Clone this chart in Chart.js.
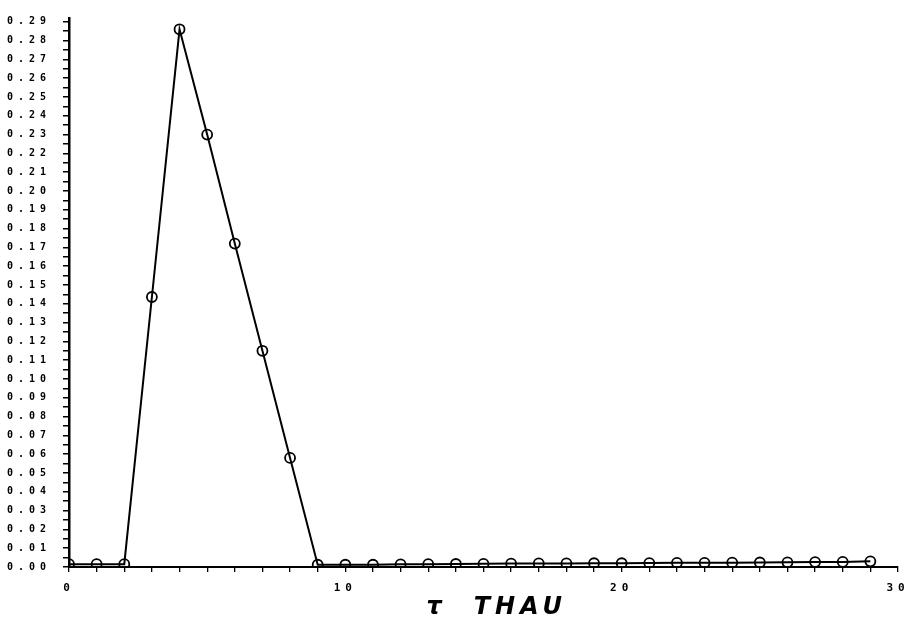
<!DOCTYPE html>
<html>
<head>
<meta charset="utf-8">
<script src="https://cdn.jsdelivr.net/npm/chart.js@4.4.0/dist/chart.umd.min.js"></script>
<style>
html,body{margin:0;padding:0;background:#fff;}
#wrap{width:910px;height:625px;position:relative;}
</style>
</head>
<body>
<div id="wrap"><canvas id="c" width="910" height="625"></canvas></div>
<script>
const tauValues = [0,1,2,3,4,5,6,7,8,9,10,11,12,13,14,15,16,17,18,19,20,21,22,23,24,25,26,27,28,29];
const seriesValues = [0.0015,0.0015,0.0015,0.1436,0.286,0.230,0.172,0.115,0.058,0.0012,
  0.0012,0.0012,0.0014,0.0015,0.0016,0.0017,0.0018,0.0019,0.0019,0.0020,
  0.0020,0.0021,0.0022,0.0022,0.0023,0.0024,0.0025,0.0026,0.0027,0.0030];
const xTickLabels = ['0','10','20','30'];
const yTickLabels = ['0.00','0.01','0.02','0.03','0.04','0.05','0.06','0.07','0.08','0.09','0.10',
  '0.11','0.12','0.13','0.14','0.15','0.16','0.17','0.18','0.19','0.20','0.21','0.22','0.23','0.24',
  '0.25','0.26','0.27','0.28','0.29'];
const xTitle = '\u00a0\u00a0τ  THAU';

const spacing = {
  id:'spacing',
  beforeLayout(chart){ chart.ctx.letterSpacing = '5px'; },
  beforeDraw(chart){ chart.ctx.letterSpacing = '5px'; }
};

new Chart(document.getElementById('c'), {
  type:'scatter',
  data:{
    datasets:[{
      data: tauValues.map((t,i)=>({x:t,y:seriesValues[i]})),
      showLine:true,
      borderColor:'#000',
      borderWidth:2,
      pointRadius:5,
      pointBorderWidth:1.8,
      pointBorderColor:'#000',
      pointBackgroundColor:'rgba(0,0,0,0)',
      tension:0
    }]
  },
  options:{
    responsive:false,
    animation:false,
    layout:{padding:{top:14,right:0,left:0,bottom:0}},
    plugins:{legend:{display:false},tooltip:{enabled:false}},
    scales:{
      x:{
        type:'linear', min:0, max:30,
        border:{color:'#000',width:2},
        grid:{drawOnChartArea:false,drawTicks:true,tickLength:5,color:'#000',lineWidth:1.3},
        afterFit:(s)=>{ s.height = 58; s.paddingRight = 12; s.paddingLeft = 0; },
        ticks:{
          stepSize:1, autoSkip:false, maxRotation:0, padding:10, color:'#000',
          font:{family:'DejaVu Sans Mono',weight:'bold',size:11},
          callback:(v)=>{ const i = Math.round(v); return (i%10===0) ? xTickLabels[i/10] : ''; }
        },
        title:{display:true,text:xTitle,color:'#000',padding:{top:0,bottom:3},
          font:{family:'DejaVu Sans',style:'italic',weight:'bold',size:24}}
      },
      y:{
        type:'linear', min:0, max:0.292,
        border:{color:'#000',width:2.5},
        grid:{drawOnChartArea:false,drawTicks:true,tickLength:6,color:'#000',lineWidth:1.5},
        afterFit:(s)=>{ s.width = 69; },
        afterBuildTicks:(s)=>{
          const t = [];
          for (let k = 0; k <= (yTickLabels.length - 1) * 2; k++) t.push({value: k * 0.005});
          s.ticks = t;
        },
        ticks:{
          autoSkip:false, padding:12, color:'#000',
          font:{family:'DejaVu Sans Mono',weight:'bold',size:10},
          callback:(v)=>{ const k = Math.round(v*1000); return (k%10===0) ? yTickLabels[k/10] : ''; }
        }
      }
    }
  },
  plugins:[spacing]
});
</script>
</body>
</html>
